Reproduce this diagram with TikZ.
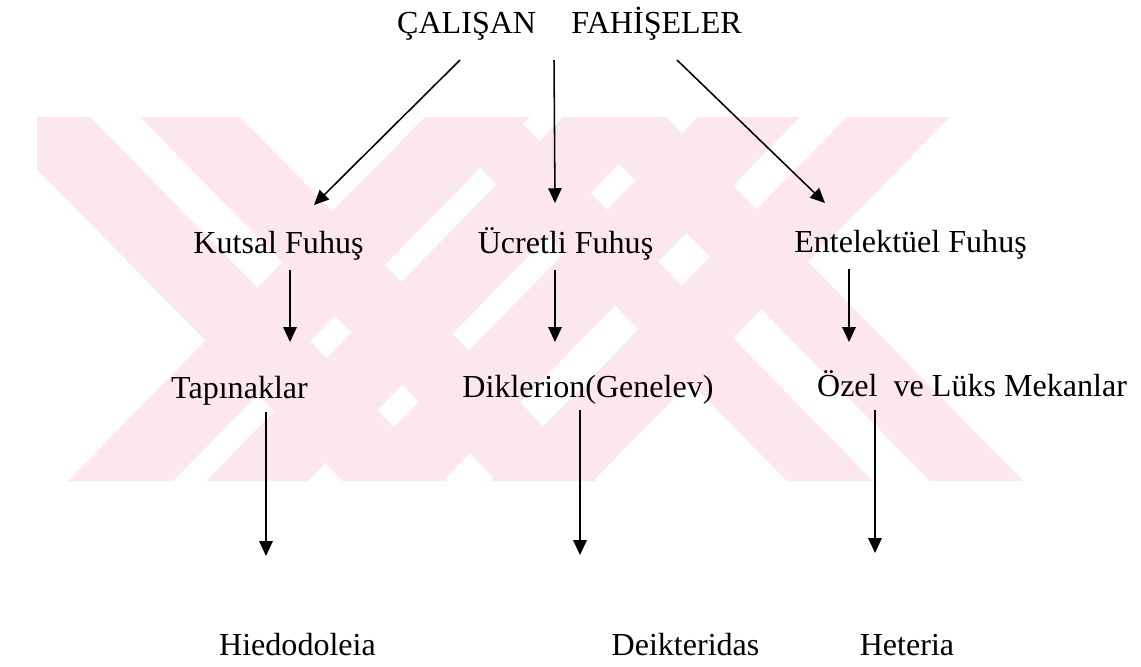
\documentclass[tikz,border=0pt]{standalone}
\usepackage{fontspec}
\setmainfont{Liberation Serif}
\usetikzlibrary{arrows.meta}
\definecolor{wmpink}{RGB}{252,232,236}
\begin{document}
\begin{tikzpicture}[x=0.025cm,y=-0.025cm,
  lbl/.style={inner sep=0pt, anchor=base, font=\fontsize{22.8}{27}\selectfont},
  ok/.style={line width=1.1pt, -{Triangle[length=10.5pt,width=9.5pt]}}]
\useasboundingbox (0,0) rectangle (1141,666);
\begin{scope}
\clip (37,117) rectangle (1030,481);
\foreach \a/\b in {425/530,563/665,698/800,847/950}
  \fill[wmpink] (\a,117) -- (\b,117) -- (\b-357,481) -- (\a-357,481) -- cycle;
\foreach \a/\b in {-14/90,140/240,430/516,573/666}
  \fill[wmpink] (\a,117) -- (\b,117) -- (\b+357,481) -- (\a+357,481) -- cycle;
\end{scope}
\node[lbl] (fahise) at (569.5,33) {ÇALIŞAN\hspace{1.1em}FAHİŞELER};
\node[lbl] (kutsal) at (278.5,253) {Kutsal Fuhuş};
\node[lbl] (ucretli) at (565.5,253) {Ücretli Fuhuş};
\node[lbl] (entel) at (910.5,252) {Entelektüel Fuhuş};
\node[lbl] (tapinak) at (239.5,398) {Tapınaklar};
\node[lbl] (diklerion) at (588,397) {Diklerion(Genelev)};
\node[lbl] (ozel) at (972,396) {Özel\ \ ve Lüks Mekanlar};
\node[lbl] (hiedo) at (297.5,655) {Hiedodoleia};
\node[lbl] (deik) at (685.5,655) {Deikteridas};
\node[lbl] (heteria) at (907,655) {Heteria};
\draw[ok] ([shift={(-109.5,27)}]fahise.base) -- ([shift={(35.5,-48)}]kutsal.base);
\draw[ok] ([shift={(-15.5,27)}]fahise.base) -- ([shift={(-10.5,-50)}]ucretli.base);
\draw[ok] ([shift={(107.5,27)}]fahise.base) -- ([shift={(-85.5,-49)}]entel.base);
\draw[ok] ([shift={(11.5,17)}]kutsal.base) -- ([shift={(50.5,-56)}]tapinak.base);
\draw[ok] ([shift={(-10.5,17)}]ucretli.base) -- ([shift={(-33,-55)}]diklerion.base);
\draw[ok] ([shift={(-61.5,17)}]entel.base) -- ([shift={(-123,-54)}]ozel.base);
\draw[ok] ([shift={(26.5,14)}]tapinak.base) -- ([shift={(-31.5,-99)}]hiedo.base);
\draw[ok] ([shift={(-8,13)}]diklerion.base) -- ([shift={(-105.5,-100)}]deik.base);
\draw[ok] ([shift={(-97,14)}]ozel.base) -- ([shift={(-32,-102)}]heteria.base);
\end{tikzpicture}
\end{document}
